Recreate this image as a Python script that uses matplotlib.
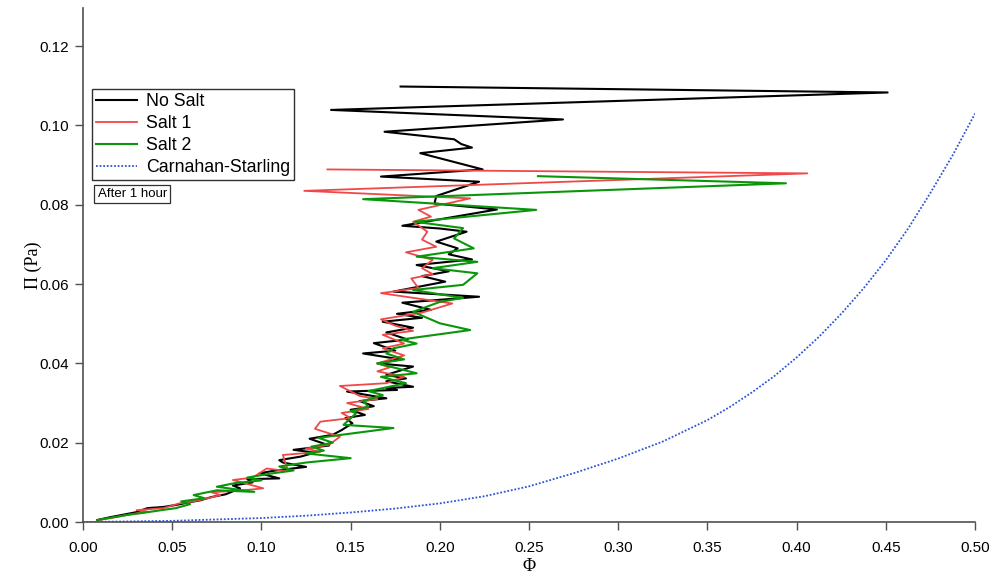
import matplotlib
matplotlib.use("Agg")
import matplotlib.pyplot as plt
import numpy as np

# osmotic pressure vs volume fraction, three samples after 1 hour
nosalt_phi = [0.008, 0.015, 0.022, 0.030, 0.036, 0.045, 0.052, 0.060, 0.066, 0.072,
              0.080, 0.088, 0.084, 0.095, 0.092, 0.110, 0.099, 0.108, 0.125, 0.112,
              0.110, 0.122, 0.130, 0.118, 0.138, 0.127, 0.140, 0.145, 0.151, 0.147,
              0.158, 0.150, 0.163, 0.155, 0.170, 0.148, 0.176, 0.170, 0.185, 0.170,
              0.181, 0.170, 0.185, 0.165, 0.178, 0.157, 0.175, 0.163, 0.182, 0.170,
              0.185, 0.168, 0.190, 0.176, 0.195, 0.179, 0.222, 0.174, 0.203, 0.190,
              0.205, 0.187, 0.218, 0.205, 0.210, 0.198, 0.215, 0.200, 0.179, 0.232,
              0.197, 0.198, 0.222, 0.167, 0.224, 0.189, 0.218, 0.212, 0.208, 0.169,
              0.269, 0.139, 0.451, 0.178]
nosalt_pi = [0.0005, 0.0012, 0.0018, 0.0025, 0.0035, 0.0038, 0.0043, 0.0050, 0.0055, 0.0063,
             0.0070, 0.0085, 0.0092, 0.0100, 0.0108, 0.0110, 0.0123, 0.0130, 0.0139, 0.0150,
             0.0156, 0.0165, 0.0175, 0.0182, 0.0193, 0.0210, 0.0220, 0.0232, 0.0249, 0.0262,
             0.0270, 0.0283, 0.0292, 0.0305, 0.0312, 0.0329, 0.0333, 0.0338, 0.0341, 0.0355,
             0.0362, 0.0371, 0.0392, 0.0400, 0.0410, 0.0425, 0.0432, 0.0451, 0.0460, 0.0478,
             0.0490, 0.0505, 0.0515, 0.0525, 0.0535, 0.0553, 0.0568, 0.0581, 0.0606, 0.0620,
             0.0632, 0.0648, 0.0662, 0.0675, 0.0690, 0.0707, 0.0732, 0.0740, 0.0747, 0.0788,
             0.0803, 0.0822, 0.0858, 0.0871, 0.0889, 0.0930, 0.0944, 0.0953, 0.0965, 0.0984,
             0.1015, 0.1039, 0.1083, 0.1098]

salt1_phi = [0.009, 0.018, 0.026, 0.036, 0.030, 0.045, 0.054, 0.062, 0.070, 0.077,
             0.072, 0.090, 0.101, 0.084, 0.095, 0.103, 0.115, 0.112, 0.133, 0.125,
             0.138, 0.144, 0.130, 0.133, 0.150, 0.145, 0.160, 0.148, 0.165, 0.155,
             0.144, 0.170, 0.180, 0.165, 0.172, 0.165, 0.180, 0.168, 0.180, 0.168,
             0.185, 0.175, 0.167, 0.190, 0.207, 0.167, 0.188, 0.184, 0.196, 0.190,
             0.196, 0.181, 0.198, 0.190, 0.193, 0.185, 0.195, 0.188, 0.217, 0.124,
             0.406, 0.137]
salt1_pi = [0.0005, 0.0012, 0.0019, 0.0026, 0.0030, 0.0035, 0.0047, 0.0052, 0.0060, 0.0068,
            0.0075, 0.0080, 0.0085, 0.0106, 0.0112, 0.0135, 0.0128, 0.0169, 0.0177, 0.0185,
            0.0195, 0.0215, 0.0235, 0.0253, 0.0262, 0.0275, 0.0285, 0.0300, 0.0310, 0.0318,
            0.0343, 0.0350, 0.0366, 0.0380, 0.0390, 0.0400, 0.0420, 0.0438, 0.0450, 0.0472,
            0.0482, 0.0495, 0.0511, 0.0528, 0.0551, 0.0577, 0.0590, 0.0614, 0.0625, 0.0640,
            0.0661, 0.0680, 0.0694, 0.0712, 0.0732, 0.0757, 0.0770, 0.0787, 0.0816, 0.0835,
            0.0879, 0.0889]

salt2_phi = [0.008, 0.017, 0.025, 0.035, 0.044, 0.052, 0.060, 0.055, 0.068, 0.062,
             0.075, 0.096, 0.075, 0.085, 0.100, 0.092, 0.105, 0.118, 0.110, 0.125,
             0.150, 0.125, 0.135, 0.128, 0.140, 0.132, 0.145, 0.174, 0.146, 0.153,
             0.150, 0.160, 0.157, 0.168, 0.160, 0.181, 0.167, 0.187, 0.165, 0.180,
             0.170, 0.174, 0.187, 0.178, 0.217, 0.200, 0.185, 0.200, 0.213, 0.185,
             0.213, 0.221, 0.196, 0.221, 0.187, 0.219, 0.208, 0.213, 0.186, 0.254,
             0.157, 0.394, 0.255]
salt2_pi = [0.0005, 0.0012, 0.0018, 0.0024, 0.0030, 0.0035, 0.0045, 0.0052, 0.0060, 0.0068,
            0.0080, 0.0076, 0.0089, 0.0098, 0.0105, 0.0112, 0.0122, 0.0130, 0.0140, 0.0150,
            0.0161, 0.0173, 0.0180, 0.0190, 0.0200, 0.0212, 0.0220, 0.0237, 0.0245, 0.0274,
            0.0280, 0.0290, 0.0305, 0.0320, 0.0330, 0.0350, 0.0366, 0.0375, 0.0400, 0.0410,
            0.0425, 0.0438, 0.0450, 0.0460, 0.0484, 0.0501, 0.0530, 0.0555, 0.0565, 0.0585,
            0.0598, 0.0627, 0.0640, 0.0656, 0.0669, 0.0690, 0.0715, 0.0741, 0.0757, 0.0787,
            0.0814, 0.0854, 0.0872]

cs_phi = [0.0, 0.05, 0.10, 0.125, 0.15, 0.175, 0.20, 0.225, 0.25, 0.275, 0.30,
          0.325, 0.35, 0.3625, 0.375, 0.3875, 0.40, 0.4125, 0.425, 0.4375, 0.45,
          0.4625, 0.475, 0.4875, 0.50]
cs_pi = [0.0, 0.0003, 0.0010, 0.0016, 0.0024, 0.0034, 0.0047, 0.0065, 0.0090, 0.0123, 0.0160,
         0.0203, 0.0257, 0.0290, 0.0327, 0.0368, 0.0415, 0.0467, 0.0525, 0.0589, 0.0660,
         0.0740, 0.0830, 0.0925, 0.1030]

xticks = np.arange(0, 0.51, 0.05)
yticks = np.arange(0, 0.121, 0.02)

plt.rcParams['font.family'] = ['Liberation Sans', 'DejaVu Sans']

fig = plt.figure(figsize=(9.98, 5.79), dpi=100)
ax = fig.add_axes([0.0832, 0.0984, 0.8938, 0.8878])

ax.plot(nosalt_phi, nosalt_pi, color='black', lw=1.5, label='No Salt')
ax.plot(salt1_phi, salt1_pi, color='#f04848', lw=1.3, label='Salt 1')
ax.plot(salt2_phi, salt2_pi, color='#0a960a', lw=1.5, label='Salt 2')
ax.plot(cs_phi, cs_pi, color='#2f55d4', lw=1.3, ls=(0, (1, 1)), label='Carnahan-Starling')

ax.set_xlim(0, 0.5)
ax.set_ylim(0, 0.1296)
ax.set_xticks(xticks)
ax.set_yticks(yticks)
ax.set_xticklabels([f'{v:.2f}' for v in xticks])
ax.set_yticklabels([f'{v:.2f}' for v in yticks])

for side in ['top', 'right']:
    ax.spines[side].set_visible(False)
for side in ['left', 'bottom']:
    ax.spines[side].set_color('#505050')
    ax.spines[side].set_linewidth(1.2)

ax.tick_params(axis='both', colors='#505050', direction='out', width=1.0)
ax.tick_params(axis='x', length=6, pad=8)
ax.tick_params(axis='y', length=6, pad=4)
for lbl in ax.get_xticklabels() + ax.get_yticklabels():
    lbl.set_fontsize(11)
    lbl.set_color('black')

ax.set_xlabel('Φ', family=['Liberation Serif', 'DejaVu Serif'], fontsize=13, labelpad=2)
ax.set_ylabel('Π (Pa)', family=['Liberation Serif', 'DejaVu Serif'], fontsize=13, labelpad=-2)

leg = ax.legend(loc='upper left', bbox_to_anchor=(0.010, 0.842), borderaxespad=0,
                fancybox=False, framealpha=1, edgecolor='#303030', fontsize=12.8,
                handlelength=2.3, handletextpad=0.5, labelspacing=0.28,
                borderpad=0.22)
leg.get_frame().set_linewidth(1.0)

ax.text(0.0165, 0.638, 'After 1 hour', transform=ax.transAxes, fontsize=9.5,
        va='center', ha='left',
        bbox=dict(boxstyle='square,pad=0.25', fc='white', ec='#303030', lw=0.9))

fig.savefig('out.png', dpi=100)
